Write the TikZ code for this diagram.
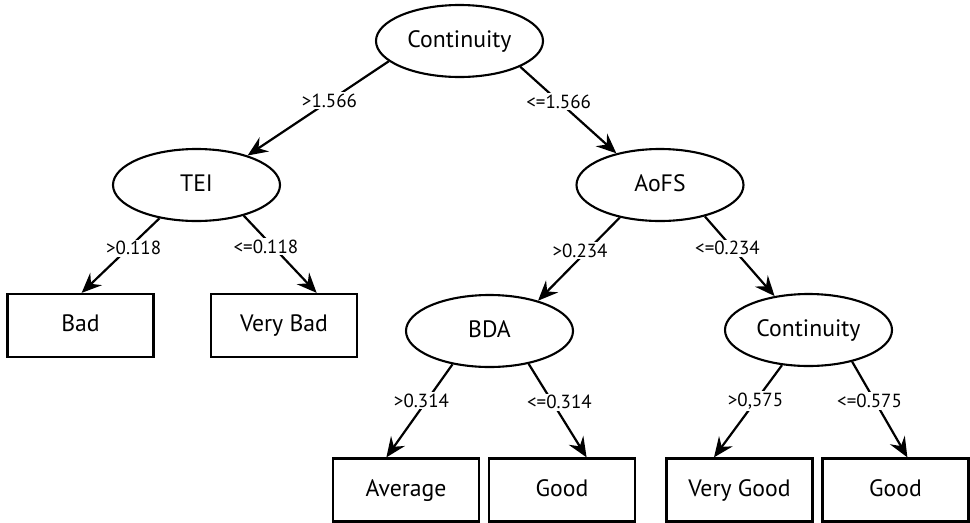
\documentclass[tikz,border=0pt]{standalone}
\usepackage{fontspec}
\setmainfont{PT Sans}
\usepackage{tikz}
\usetikzlibrary{arrows.meta, shapes.geometric}

\begin{document}
\begin{tikzpicture}[
  every node/.style={font=\fontsize{13.5}{15}\selectfont},
  split/.style={draw, ellipse, line width=1.2pt, minimum width=3.34cm, minimum height=1.44cm, inner sep=0pt, text height=9.5pt, text depth=2.5pt},
  leaf/.style={draw, rectangle, line width=1.3pt, minimum width=2.92cm, minimum height=1.26cm, inner sep=0pt, text height=9.5pt, text depth=2.5pt},
  arrow/.style={-{Stealth[length=4mm, width=3.4mm, inset=1.4mm]}, line width=1.25pt},
  cond/.style={font=\fontsize{10.8}{12}\selectfont, fill=white, inner sep=1pt}
]
  \useasboundingbox (0,0) rectangle (19.4,-10.44);

  % Splits
  \node[split] (cont) at (9.19, -0.82) {Continuity};
  \node[split] (tei) at (3.93, -3.70) {TEI};
  \node[split] (aofs) at (13.20, -3.70) {AoFS};
  \node[split] (bda) at (9.79, -6.62) {BDA};
  \node[split] (cont2) at (16.17, -6.60) {Continuity};

  % Leaves
  \node[leaf] (bad) at (1.61, -6.51) {Bad};
  \node[leaf] (vbad) at (5.68, -6.51) {Very Bad};
  \node[leaf] (avg) at (8.12, -9.80) {Average};
  \node[leaf] (good) at (11.24, -9.80) {Good};
  \node[leaf] (vgood) at (14.79, -9.80) {Very Good};
  \node[leaf] (good2) at (17.91, -9.80) {Good};

  \draw[arrow] (cont.196) -- node[cond, pos=0.42] {>1.566} (tei.30);
  \draw[arrow] (cont.337) -- node[cond, pos=0.40] {<=1.566} (aofs.144);
  \draw[arrow] (tei.222) -- node[cond, pos=0.40, xshift=3pt] {>0.118} (bad.88);
  \draw[arrow] (tei.327) -- node[cond, pos=0.40, xshift=-4pt] {<=0.118} (vbad.45);
  \draw[arrow] (aofs.219) -- node[cond, pos=0.40, xshift=-4pt] {>0.234} (bda.32);
  \draw[arrow] (aofs.325) -- node[cond, pos=0.40, xshift=-3pt] {<=0.234} (cont2.135);
  \draw[arrow] (bda.222) -- node[cond, pos=0.39, xshift=-3pt] {>0.314} (avg.121);
  \draw[arrow] (bda.320) -- node[cond, pos=0.41, xshift=4pt] {<=0.314} (good.53);
  \draw[arrow] (cont2.233) -- node[cond, pos=0.39] {>0,575} (vgood.128);
  \draw[arrow] (cont2.324) -- node[cond, pos=0.41, xshift=-3pt] {<=0.575} (good2.70);

\end{tikzpicture}
\end{document}
